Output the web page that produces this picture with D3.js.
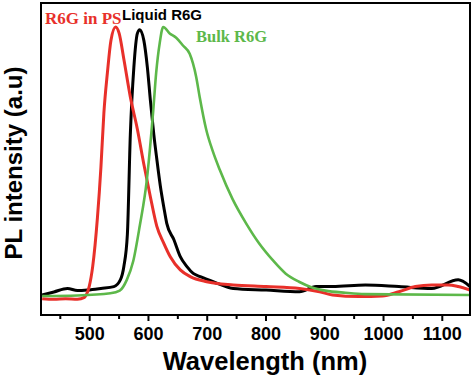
<!DOCTYPE html>
<html>
<head>
<meta charset="utf-8">
<script src="https://cdn.jsdelivr.net/npm/d3@7"></script>
<style>
  body { margin: 0; background: #fff; }
  svg { display: block; }
</style>
</head>
<body>
<svg id="chart" width="474" height="376"></svg>
<script>
// wavelength (nm) / normalised PL intensity
const psWl = [420, 440, 460, 480, 492, 495, 500, 506, 514, 520, 525, 531, 537, 545, 551, 559, 570, 582, 593, 604, 615, 627, 638, 655, 672, 700, 745, 801, 858, 892, 914, 959, 999, 1027, 1055, 1083, 1111, 1128, 1148];
const psI  = [-0.01, -0.012, -0.01, -0.012, -0.005, 0.004, 0.035, 0.11, 0.29, 0.48, 0.68, 0.83, 0.95, 1.0, 0.976, 0.88, 0.74, 0.62, 0.49, 0.37, 0.26, 0.196, 0.146, 0.097, 0.072, 0.053, 0.041, 0.035, 0.028, 0.016, 0.004, -0.002, 0.0, 0.016, 0.035, 0.041, 0.041, 0.035, 0.022];

const liqWl = [420, 440, 463, 480, 497, 520, 542, 553, 559, 565, 570, 576, 582, 586, 593, 599, 604, 610, 615, 621, 627, 632, 644, 655, 666, 677, 689, 711, 745, 801, 858, 886, 914, 970, 1027, 1083, 1128, 1148];
const liqI  = [0.004, 0.015, 0.028, 0.02, 0.022, 0.028, 0.035, 0.06, 0.11, 0.23, 0.6, 0.85, 0.976, 0.99, 0.95, 0.85, 0.73, 0.6, 0.51, 0.41, 0.33, 0.27, 0.21, 0.146, 0.11, 0.084, 0.072, 0.053, 0.028, 0.022, 0.016, 0.035, 0.035, 0.041, 0.035, 0.028, 0.06, 0.035];

const bulkWl = [420, 480, 536, 552, 564, 575, 586, 598, 609, 614, 620, 626, 637, 648, 660, 671, 682, 688, 699, 710, 722, 744, 767, 789, 812, 834, 857, 879, 902, 936, 969, 1148];
const bulkI  = [0.0, 0.002, 0.01, 0.02, 0.06, 0.13, 0.26, 0.43, 0.69, 0.83, 0.94, 1.0, 0.976, 0.96, 0.93, 0.9, 0.815, 0.74, 0.62, 0.54, 0.47, 0.36, 0.27, 0.196, 0.134, 0.084, 0.053, 0.032, 0.02, 0.012, 0.007, 0.004];

const xTicks = [500, 600, 700, 800, 900, 1000, 1100];
const xMinor = [450, 550, 650, 750, 850, 950, 1050];

const svg = d3.select("#chart");
const mLeft = 41, mRight = 470, mTop = 3, mBottom = 315;

const x = d3.scaleLinear().domain([418, 1148]).range([mLeft, mRight]);
const y = d3.scaleLinear().domain([-0.0706, 1.089]).range([mBottom, mTop]);

const series = [
    { wl: liqWl, val: liqI, color: "#000000", w: 3 },
    { wl: psWl, val: psI, color: "#e8302a", w: 3 },
    { wl: bulkWl, val: bulkI, color: "#5db84a", w: 2.6 }
];

const line = d3.line()
    .x(d => x(d[0]))
    .y(d => y(d[1]))
    .curve(d3.curveMonotoneX);

const plot = svg.append("g");
plot.append("clipPath").attr("id", "clip")
    .append("rect").attr("x", mLeft).attr("y", mTop)
    .attr("width", mRight - mLeft).attr("height", mBottom - mTop);

series.forEach(s => {
    plot.append("path")
        .attr("clip-path", "url(#clip)")
        .attr("d", line(s.wl.map((w, i) => [w, s.val[i]])))
        .attr("fill", "none")
        .attr("stroke", s.color)
        .attr("stroke-width", s.w)
        .attr("stroke-linejoin", "round");
});

// frame
svg.append("rect")
    .attr("x", mLeft).attr("y", mTop)
    .attr("width", mRight - mLeft).attr("height", mBottom - mTop)
    .attr("fill", "none").attr("stroke", "#000").attr("stroke-width", 2);

// x axis
const xAxis = d3.axisBottom(x).tickValues(xTicks).tickSize(6).tickPadding(6).tickFormat(d3.format("d"));
const gx = svg.append("g").attr("transform", "translate(0," + mBottom + ")").call(xAxis);
gx.select(".domain").remove();
gx.selectAll(".tick line").attr("stroke-width", 2);
gx.selectAll(".tick text")
    .attr("font-family", "Liberation Sans, Arial, sans-serif")
    .attr("font-weight", "bold")
    .attr("font-size", 18)
    .attr("fill", "#000");

const minor = d3.axisBottom(x).tickValues(xMinor).tickSize(4).tickFormat("");
const gm = svg.append("g").attr("transform", "translate(0," + mBottom + ")").call(minor);
gm.select(".domain").remove();
gm.selectAll(".tick line").attr("stroke-width", 2);

// axis titles
svg.append("text")
    .attr("x", 265).attr("y", 370)
    .attr("text-anchor", "middle")
    .attr("font-family", "Liberation Sans, Arial, sans-serif")
    .attr("font-weight", "bold")
    .attr("font-size", 25.5)
    .text("Wavelength (nm)");

svg.append("text")
    .attr("transform", "translate(22,163) rotate(-90)")
    .attr("text-anchor", "middle")
    .attr("font-family", "Liberation Sans, Arial, sans-serif")
    .attr("font-weight", "bold")
    .attr("font-size", 24)
    .text("PL intensity (a.u)");

// series labels
svg.append("text")
    .attr("x", 45).attr("y", 24)
    .attr("font-family", "Liberation Serif, Times New Roman, serif")
    .attr("font-weight", "bold")
    .attr("font-size", 17)
    .attr("fill", "#e8302a")
    .text("R6G in PS");

svg.append("text")
    .attr("x", 122).attr("y", 20)
    .attr("font-family", "Liberation Sans, Arial, sans-serif")
    .attr("font-weight", "bold")
    .attr("font-size", 15)
    .attr("fill", "#000")
    .text("Liquid R6G");

svg.append("text")
    .attr("x", 196).attr("y", 42)
    .attr("font-family", "Liberation Serif, Times New Roman, serif")
    .attr("font-weight", "bold")
    .attr("font-size", 16.5)
    .attr("fill", "#5db84a")
    .text("Bulk R6G");
</script>
</body>
</html>
